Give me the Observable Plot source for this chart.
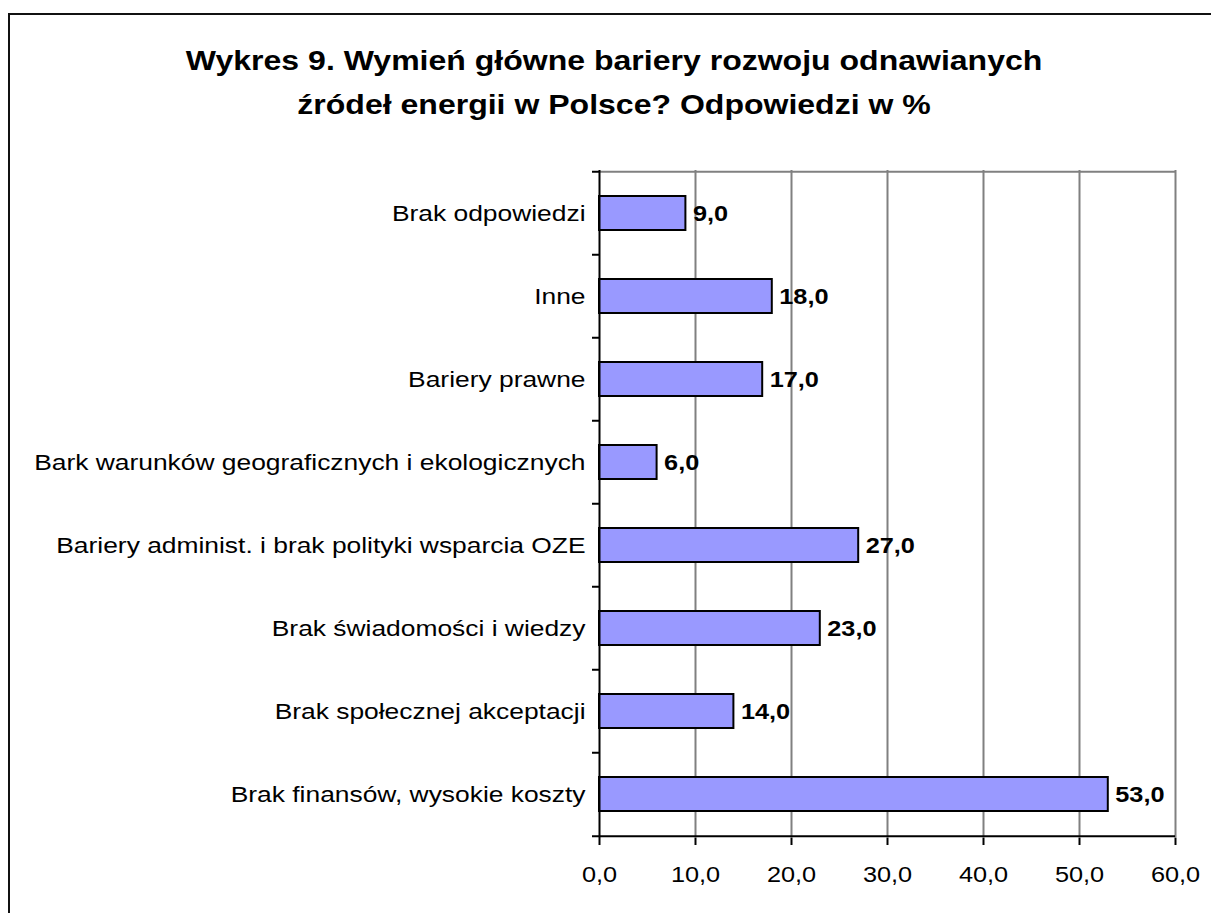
<!DOCTYPE html>
<html>
<head>
<meta charset="utf-8">
<script src="https://cdn.jsdelivr.net/npm/d3@7"></script>
<script src="https://cdn.jsdelivr.net/npm/@observablehq/plot@0.6"></script>
<style>
  html, body { margin: 0; padding: 0; background: #fff; }
  #wrap { position: relative; width: 1211px; height: 913px; overflow: hidden; font-family: Arial, "Liberation Sans", sans-serif; }
  #frame { position: absolute; left: 8px; top: 13px; width: 1300px; height: 1000px; border-left: 2px solid #111; border-top: 2px solid #111; box-sizing: border-box; }
  #title { position: absolute; left: 0; width: 1228px; top: 39px; text-align: center; font-weight: bold; font-size: 27px; line-height: 44px; color: #000; }
  #title span { display: inline-block; transform: scaleX(1.186); transform-origin: center; white-space: nowrap; }
  #chart { position: absolute; left: 0; top: 0; }
</style>
</head>
<body>
<div id="wrap">
  <div id="frame"></div>
  <div id="title"><div><span>Wykres 9. Wymień główne bariery rozwoju odnawianych</span></div><div><span>źródeł energii w Polsce? Odpowiedzi w %</span></div></div>
  <div id="chart"></div>
</div>
<script>
const categories = [
  "Brak odpowiedzi",
  "Inne",
  "Bariery prawne",
  "Bark warunków geograficznych i ekologicznych",
  "Bariery administ. i brak polityki wsparcia OZE",
  "Brak świadomości i wiedzy",
  "Brak społecznej akceptacji",
  "Brak finansów, wysokie koszty"
];
const values = [9.0, 18.0, 17.0, 6.0, 27.0, 23.0, 14.0, 53.0];
const xTicks = [0, 10, 20, 30, 40, 50, 60];

const data = categories.map((c, i) => ({category: c, value: values[i]}));
const fmt = v => v.toFixed(1).replace(".", ",");

const W = 1211, H = 913;
const mL = 599, mT = 170, mR = 36, mB = 75;
const step = (H - mT - mB) / categories.length;

const chart = Plot.plot({
  width: W,
  height: H,
  marginLeft: mL,
  marginTop: mT,
  marginRight: mR,
  marginBottom: mB,
  style: {fontFamily: "Arial, 'Liberation Sans', sans-serif", fontSize: "22px", color: "#000", background: "transparent", overflow: "visible"},
  x: {domain: [0, 60], ticks: xTicks, tickFormat: fmt, label: null},
  y: {domain: categories, paddingInner: 0.59, paddingOuter: 0.295, label: null},
  marks: [
    Plot.ruleX(xTicks.filter(t => t > 0), {x: d => d, stroke: "#808080", strokeWidth: 2}),
    Plot.ruleY([categories[0]], {y: d => d, dy: -step / 2, stroke: "#808080", strokeWidth: 2}),
    Plot.barX(data, {x: "value", y: "category", fill: "#9999ff", stroke: "#000", strokeWidth: 2}),
    Plot.text(data, {x: "value", y: "category", text: d => fmt(d.value), textAnchor: "start", dx: 7, fontWeight: "bold", fontSize: 22}),
    Plot.ruleY(categories, {y: d => d, dy: -step / 2, x1: 0, x2: 0, insetLeft: -7, stroke: "#000", strokeWidth: 2}),
    Plot.ruleY([categories[categories.length - 1]], {y: d => d, dy: step / 2, x1: 0, x2: 0, insetLeft: -7, stroke: "#000", strokeWidth: 2}),
    Plot.ruleX([0], {stroke: "#000", strokeWidth: 2}),
    Plot.ruleY([categories[categories.length - 1]], {y: d => d, dy: step / 2, stroke: "#000", strokeWidth: 2}),
    Plot.axisX({ticks: xTicks, tickFormat: fmt, tickSize: 7, tickPadding: 21, strokeWidth: 2, fontSize: 22, label: null}),
    Plot.axisY({tickSize: 0, tickPadding: 14, fontSize: 22, label: null})
  ]
});
document.getElementById("chart").appendChild(chart);

// Horizontally widen text glyphs to match the stretched look of the original chart
function stretch(selector, s) {
  chart.querySelectorAll(selector).forEach(t => {
    const bb = t.getBBox();
    const anchor = getComputedStyle(t).textAnchor;
    const ax = anchor === "end" ? bb.x + bb.width : anchor === "middle" ? bb.x + bb.width / 2 : bb.x;
    const prev = t.getAttribute("transform") || "";
    t.setAttribute("transform", `${prev} translate(${ax},0) scale(${s},1) translate(${-ax},0)`);
  });
}
stretch('g[aria-label="y-axis tick label"] text', 1.2);
stretch('g[aria-label="x-axis tick label"] text', 1.15);
stretch('g[aria-label="text"] text', 1.15);
</script>
</body>
</html>
